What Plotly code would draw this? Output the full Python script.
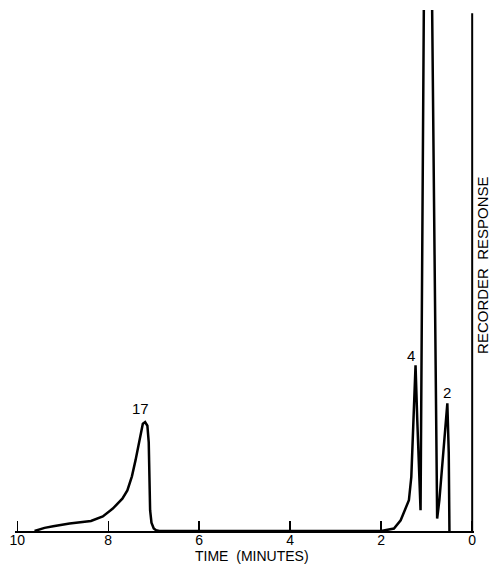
import plotly.graph_objects as go

# Chromatogram trace: time (minutes) and recorder response (arbitrary units, 100 = chart top)
time_min = [9.62, 9.40, 9.21, 8.85, 8.38, 8.12, 7.90, 7.69, 7.58, 7.48, 7.40, 7.29, 7.24, 7.19,
            7.14, 7.11, 7.09, 7.08, 7.05, 7.00, 6.95, 6.88,
            2.00, 1.72, 1.572, 1.391, 1.338, 1.303, 1.273, 1.245, 1.207, 1.172, 1.135,
            1.063, 0.990, 0.880, 0.770, 0.72, 0.64, 0.56, 0.546, 0.515, 0.505, 0.500]
response = [0.0, 0.6, 0.9, 1.42, 1.92, 2.8, 4.3, 6.2, 7.8, 10.5, 13.6, 18.8, 20.6, 20.9,
            20.2, 17.0, 10.0, 4.0, 1.6, 0.5, 0.15, 0.0,
            0.0, 0.46, 2.05, 5.9, 10.4, 18.1, 25.7, 31.8, 21.3, 11.7, 4.0,
            100.0, 197.0, 100.0, 2.4, 6.0, 15.0, 23.0, 24.5, 15.0, 5.0, 0.0]

# Peak labels
peak_labels = ["17", "4", "2"]
peak_label_time = [7.29, 1.354, 0.546]
peak_label_resp = [23.5, 33.6, 26.5]

# Axis ticks
tick_vals = [10, 8, 6, 4, 2, 0]
tick_text = ["10", "8", "6", "4", "2", "0"]

FONT = "Liberation Sans, Arial, Helvetica, sans-serif"

fig = go.Figure()
fig.add_trace(go.Scatter(
    x=time_min, y=response, mode="lines",
    line=dict(color="black", width=2.5),
    hoverinfo="skip", showlegend=False,
))

for lab, tx, ty in zip(peak_labels, peak_label_time, peak_label_resp):
    fig.add_annotation(x=tx, y=ty, text=lab, showarrow=False,
                       xanchor="center", yanchor="middle",
                       font=dict(family=FONT, size=15, color="black"))

# Right-hand recorder response axis line at time 0
fig.add_shape(type="line", xref="x", yref="y", x0=0, x1=0, y0=0, y1=99.4,
              line=dict(color="black", width=2))

fig.add_annotation(xref="paper", yref="paper", x=1.0195, y=0.5106,
                   text="RECORDER\u00a0\u00a0RESPONSE", textangle=-90, showarrow=False,
                   xanchor="center", yanchor="middle",
                   font=dict(family=FONT, size=15, color="black"))

fig.add_annotation(xref="paper", yref="paper", x=0.5173, y=-0.0480,
                   text="TIME\u00a0\u00a0(MINUTES)", showarrow=False,
                   xanchor="center", yanchor="middle", borderpad=0,
                   font=dict(family=FONT, size=14, color="black"))

fig.update_layout(
    width=491, height=564,
    margin=dict(l=12, r=17, t=10, b=33),
    paper_bgcolor="white", plot_bgcolor="white",
    font=dict(family=FONT, size=15, color="black"),
    xaxis=dict(range=[10.05, -0.04], tickvals=tick_vals, ticktext=tick_text,
               ticks="inside", ticklen=10, tickwidth=1.5, tickcolor="black",
               ticklabelstandoff=-5, ticklabeloverflow="allow",
               showline=True, linewidth=2, linecolor="black",
               showgrid=False, zeroline=False, fixedrange=True,
               tickfont=dict(family=FONT, size=14, color="black")),
    yaxis=dict(range=[0, 100], visible=False, showgrid=False, zeroline=False,
               fixedrange=True),
)

fig.write_html("out.html",
               config={"displayModeBar": False, "staticPlot": True},
               post_script="document.body.style.margin='0';document.body.style.overflow='hidden';")
